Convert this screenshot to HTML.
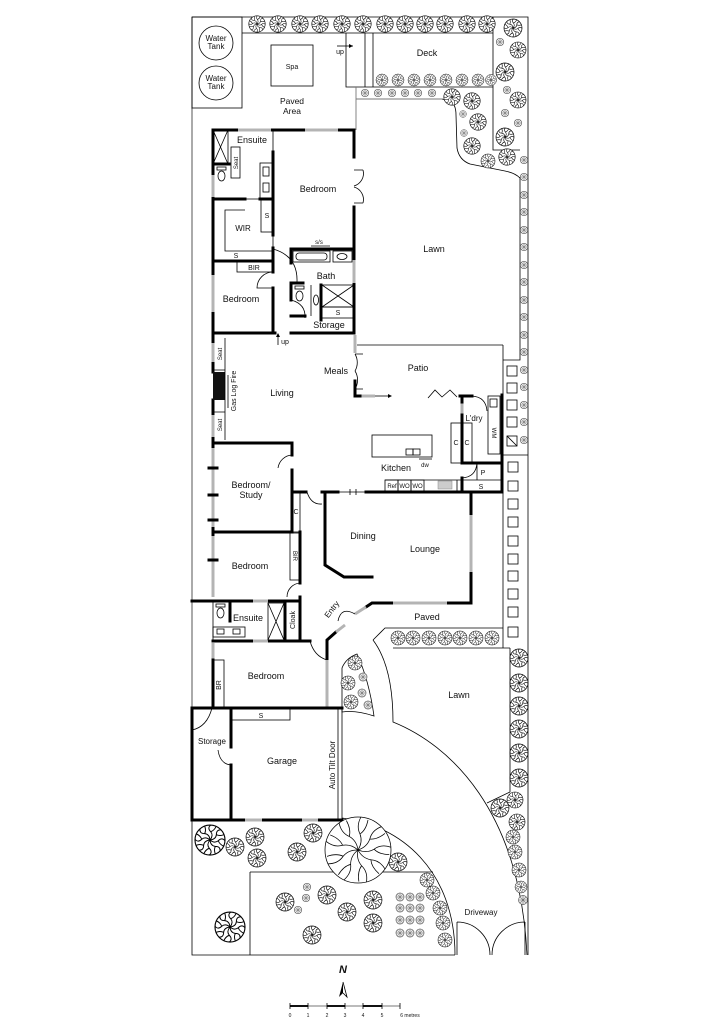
<!DOCTYPE html>
<html><head><meta charset="utf-8">
<style>
html,body{margin:0;padding:0;background:#fff}
svg{display:block}
text{font-family:"Liberation Sans",sans-serif;fill:#111;text-anchor:middle}
.w{stroke:#000;stroke-width:3;fill:none;stroke-linecap:square}
.n{stroke:#000;stroke-width:.8;fill:none}
.g{stroke:#b4b4b4;stroke-width:3;fill:none}
.l{stroke:#777;stroke-width:.9;fill:none}
</style></head><body>
<svg width="723" height="1024" viewBox="0 0 723 1024" xmlns="http://www.w3.org/2000/svg">
<defs>
<g id="t">
<circle r="10" fill="#fff" stroke="#000" stroke-width="0.75"/>
<g fill="none" stroke="#000" stroke-width="0.65">
<path d="M0,0 Q2.5,-3 0.5,-5.5 Q-2,-8 0.5,-10 M0.5,-5.5 Q3,-6.5 4,-9"/>
<path transform="rotate(45)" d="M0,0 Q2.5,-3 0.5,-5.5 Q-2,-8 0.5,-10 M0.5,-5.5 Q3,-6.5 4,-9"/>
<path transform="rotate(90)" d="M0,0 Q2.5,-3 0.5,-5.5 Q-2,-8 0.5,-10 M0.5,-5.5 Q3,-6.5 4,-9"/>
<path transform="rotate(135)" d="M0,0 Q2.5,-3 0.5,-5.5 Q-2,-8 0.5,-10 M0.5,-5.5 Q3,-6.5 4,-9"/>
<path transform="rotate(180)" d="M0,0 Q2.5,-3 0.5,-5.5 Q-2,-8 0.5,-10 M0.5,-5.5 Q3,-6.5 4,-9"/>
<path transform="rotate(225)" d="M0,0 Q2.5,-3 0.5,-5.5 Q-2,-8 0.5,-10 M0.5,-5.5 Q3,-6.5 4,-9"/>
<path transform="rotate(270)" d="M0,0 Q2.5,-3 0.5,-5.5 Q-2,-8 0.5,-10 M0.5,-5.5 Q3,-6.5 4,-9"/>
<path transform="rotate(315)" d="M0,0 Q2.5,-3 0.5,-5.5 Q-2,-8 0.5,-10 M0.5,-5.5 Q3,-6.5 4,-9"/>
</g>
</g>
<g id="s">
<circle r="9" fill="#e8e8e8" stroke="#555" stroke-width="1.3"/>
<path d="M-9,0 H9 M0,-9 V9 M-6.4,-6.4 L6.4,6.4 M-6.4,6.4 L6.4,-6.4" stroke="#666" stroke-width="1.1"/>
</g>
</defs>

<!-- boundaries -->
<path class="n" stroke-width="1.2" d="M192,17 H528 V955"/>
<path class="n" stroke-width="1.2" d="M192,17 V108"/>
<line x1="192" y1="108" x2="192" y2="707" stroke="#aaa" stroke-width="2"/>
<path class="n" stroke-width="1.6" d="M192,820 V955 H455"/>
<rect x="192" y="17" width="50" height="91" class="n"/>
<circle cx="216" cy="43" r="17" class="n"/>
<circle cx="216" cy="83" r="17" class="n"/>
<text x="216" y="41" font-size="8">Water</text><text x="216" y="49" font-size="8">Tank</text>
<text x="216" y="81" font-size="8">Water</text><text x="216" y="89" font-size="8">Tank</text>

<!-- top / deck -->
<path class="n" d="M242,33 H493 M346,33 V87 H493 M365,33 V87 M373,33 V87 M493,17 V150 H520"/>
<path class="n" d="M337,46 H353"/><path d="M353,46 l-4,-2 v4 z" fill="#000"/>
<text x="340" y="54" font-size="7">up</text>
<text x="427" y="56" font-size="9">Deck</text>
<rect x="271" y="45" width="42" height="41" class="n"/>
<text x="292" y="69" font-size="7">Spa</text>
<text x="292" y="104" font-size="8.5">Paved</text><text x="292" y="114" font-size="8.5">Area</text>
<path class="l" d="M356,87 V130 M356,99 H442"/>
<path class="n" d="M442,99 L450,101 Q456,104 456,115 L457,148 Q459,160 470,164 L505,171 Q515,173 520,178"/>
<path class="n" d="M520,177 V360 H503 M503,345 V648 M503,455 H528 M357,345 H503 M510,648 V792 L487,803 M393,648 H510"/>

<!-- lawns / paths -->
<path class="n" d="M373,640 L385,628 H503"/>
<path class="n" d="M373,640 C388,660 393,690 393,722 C450,745 520,810 527,955"/>
<path class="n" d="M342,712 L342,668 Q346,658 357,654 Q369,680 374,716 Q356,710 342,712 Z"/>
<path class="n" d="M342,818 C400,825 455,870 455,955 M250,872 H433 M250,872 V955"/>
<path class="n" d="M457,922 V955 M457,922 A33,33 0 0 1 490,955 M525,922 V955 M525,922 A33,33 0 0 0 492,955"/>

<!-- MASTER WING -->
<path class="w" d="M213,130 H238 M271,130 H305 M338,130 H354 V157 M354,207 V260 M354,283 V333 H291 M275,333 H213 M213,130 V175 M213,197 V275 M213,312 V333"/>
<path class="g" d="M238,130 H271 M305,130 H338 M354,260 V283 M213,175 V197 M213,275 V312"/>
<path class="n" d="M354,170 h9 M354,203 h9 M363,170 A13,13 0 0 1 354,186 M363,203 A13,13 0 0 0 354,187"/>
<path class="w" d="M213,164 H229 M213,199 H245 M260,199 H273 M273,152 V235 M273,248 V272 M273,288 V333 M213,261 H273"/>
<path class="n" d="M273,130 V152 M245,199 H260 M273,235 V248"/>
<rect x="213" y="130" width="15" height="34" class="n"/><path class="n" d="M213,130 L228,164 M228,130 L213,164"/>
<rect x="231" y="147" width="9" height="31" class="n"/>
<text font-size="6" transform="translate(238,163) rotate(-90)">Seat</text>
<rect x="217" y="167" width="9" height="3" class="n"/><ellipse cx="221.5" cy="176" rx="3.5" ry="5" class="n"/>
<text x="252" y="143" font-size="9">Ensuite</text>
<rect x="260" y="163" width="12" height="36" class="n"/>
<rect x="263" y="167" width="6" height="9" class="n"/><rect x="263" y="183" width="6" height="9" class="n"/>
<rect x="261" y="200" width="11" height="32" class="n"/><text x="267" y="218" font-size="7">S</text>
<path class="n" d="M245,210 H225 V251 H272"/>
<text x="243" y="231" font-size="8">WIR</text>
<text x="236" y="258" font-size="7">S</text>
<rect x="237" y="262" width="35" height="10" class="n"/><text x="254" y="270" font-size="7">BIR</text>
<path class="n" d="M273,272 A16,16 0 0 0 257,288 L273,288"/>
<text x="241" y="302" font-size="9">Bedroom</text>
<text x="318" y="192" font-size="9">Bedroom</text>
<path class="w" d="M291,263 V249 H354 M303,283 H291 V300 M291,316 H305 M321,285 V320"/>
<path class="n" d="M273,249 Q298,256 297,282"/>
<rect x="293" y="251" width="37" height="11" class="n"/><rect x="296" y="253" width="31" height="7" rx="3" class="n"/>
<rect x="333" y="251" width="19" height="11" class="n"/><ellipse cx="342" cy="256.5" rx="5" ry="3" class="n"/>
<text x="319" y="244" font-size="6">s/s</text><path class="n" d="M311,246 H330"/>
<text x="326" y="279" font-size="9">Bath</text>
<path class="n" d="M311,285 V316"/>
<rect x="295" y="286" width="9" height="3" class="n"/><ellipse cx="299.5" cy="296" rx="3.5" ry="5" class="n"/>
<ellipse cx="316" cy="300" rx="2.5" ry="5" class="n"/>
<rect x="322" y="285" width="32" height="22" class="n"/><path class="n" d="M322,285 L354,307 M354,285 L322,307"/>
<rect x="322" y="307" width="32" height="11" class="n"/><text x="338" y="315" font-size="7">S</text>
<path class="n" d="M291,300 Q306,304 305,318"/>
<text x="329" y="328" font-size="9">Storage</text>
<path class="n" d="M278,345 V336"/><path d="M278,333 l-2,4 h4 z" fill="#000"/>
<text x="285" y="344" font-size="7">up</text>

<!-- LIVING -->
<path class="w" d="M213,333 V343 M213,362 V372 M213,400 V415 M213,437 V443 H292 V455 M292,470 V532 H213 M213,443 V448 M213,527 V536 M300,532 V583 M300,597 V641 M292,492 H306"/>
<path class="g" d="M213,343 V362 M213,415 V437 M213,448 V527 M213,536 V597"/>
<path class="w" stroke-width="2" d="M209,468 h8 M209,495 h8 M209,520 h8 M209,560 h8"/>
<rect x="213" y="372" width="12" height="28" fill="#111"/>
<path class="n" d="M225,338 V440 M213,370 H225 M213,412 H225 M228,375 V408"/>
<text font-size="6" transform="translate(222,354) rotate(-90)">Seat</text>
<text font-size="6" transform="translate(222,425) rotate(-90)">Seat</text>
<text font-size="7" transform="translate(236,391) rotate(-90)">Gas Log Fire</text>
<text x="282" y="396" font-size="9">Living</text>
<text x="336" y="374" font-size="9">Meals</text>
<text x="418" y="371" font-size="9">Patio</text>
<text x="434" y="252" font-size="9">Lawn</text>
<path class="n" d="M292,455 A15,15 0 0 0 278,468"/>
<text x="251" y="488" font-size="9">Bedroom/</text><text x="251" y="498" font-size="9">Study</text>
<rect x="292" y="492" width="8" height="40" class="n"/><text x="296" y="514" font-size="7">C</text>
<path class="n" d="M307,492 Q311,505 322,504"/>
<rect x="290" y="533" width="10" height="47" class="n"/>
<text font-size="6" transform="translate(293,556) rotate(90)">BIR</text>
<path class="n" d="M300,583 A14,14 0 0 0 287,597"/>
<text x="250" y="569" font-size="9">Bedroom</text>

<!-- ensuite 2 -->
<path class="w" d="M192,601 H253 M268,601 H300 M285,601 V641 M213,641 H253 M268,641 H310"/>
<path class="g" d="M253,601 H268 M253,641 H268"/>
<path class="n" d="M213,601 V641" stroke="#999" stroke-width="2"/>
<path class="w" stroke-width="2" d="M230,601 V621"/>
<rect x="216" y="604" width="9" height="3" class="n"/><ellipse cx="220.5" cy="613" rx="3.5" ry="5" class="n"/>
<text x="248" y="621" font-size="9">Ensuite</text>
<rect x="213" y="627" width="32" height="10" class="n"/><rect x="217" y="629" width="7" height="5" class="n"/><rect x="233" y="629" width="7" height="5" class="n"/>
<rect x="268" y="603" width="16" height="37" class="n"/><path class="n" d="M268,603 L284,640 M284,603 L268,640"/>
<text font-size="7" transform="translate(295,620) rotate(-90)">Cloak</text>
<path class="n" d="M310,641 Q314,656 327,660"/>

<!-- DINING / LOUNGE / ENTRY -->
<path class="w" d="M322,492 H338 M366,492 H502 M325,492 V565 L344,577 H372"/>
<path class="n" d="M338,492 H366 M350,489 V495 M356,489 V495"/>
<path class="w" d="M471,492 V515 M471,572 V603 H447 M393,603 H372 L366,607 M336,632 L327,640 V660"/>
<path class="g" d="M471,515 V572 M447,603 H393 M366,607 L355,614 M345,625 L336,632 M327,660 V707"/>
<path class="n" d="M355,614 Q341,606 338,621"/>
<text x="363" y="539" font-size="9">Dining</text>
<text x="425" y="552" font-size="9">Lounge</text>
<text font-size="8" transform="translate(334,611) rotate(-52)">Entry</text>
<text x="427" y="620" font-size="9">Paved</text>
<text x="459" y="698" font-size="9">Lawn</text>

<!-- bedroom 3 & garage -->
<path class="g" d="M213,643 V660"/>
<path class="w" d="M213,660 V708 M192,708 H342 M192,708 V820 H245 M262,820 H302 M318,820 H342 M231,708 V747 M231,765 V820"/>
<path class="g" d="M245,820 H262 M302,820 H318"/>
<rect x="213" y="660" width="11" height="48" class="n"/>
<text font-size="7" transform="translate(221,685) rotate(-90)">BR</text>
<text x="266" y="679" font-size="9">Bedroom</text>
<path class="n" d="M192,730 Q207,727 212,708"/>
<path class="n" d="M218,750 Q220,764 231,765"/>
<rect x="232" y="709" width="58" height="11" class="n"/><text x="261" y="718" font-size="7">S</text>
<rect x="338" y="709" width="4" height="111" class="n"/>
<text font-size="8" transform="translate(335,765) rotate(-90)">Auto Tilt Door</text>
<text x="212" y="744" font-size="8">Storage</text>
<text x="282" y="764" font-size="9">Garage</text>

<!-- KITCHEN / PATIO / LAUNDRY -->
<path class="g" d="M355,335 V353 M360,396 H375 M462,402 V415"/>
<path class="w" d="M355,381 V396 H360 M460,396 H472 M462,396 V402 M462,415 V463 H502 M502,395 V492 M462,478 V492"/>
<path class="n" d="M375,396 H390"/><path d="M392,396 l-4,-2 v4 z" fill="#000"/>
<path class="n" d="M355,354 h8 M355,389 h8 M355,354 A17,17 0 0 1 355,371 M355,371 A17,17 0 0 1 355,389"/>
<path class="n" d="M428,398 L435,390 L442,397 L450,390 L457,397"/>
<path class="n" d="M472,396 Q486,397 487,411"/>
<rect x="488" y="396" width="12" height="58" class="n"/><rect x="490" y="399" width="7" height="8" class="n"/>
<text font-size="6" transform="translate(492,433) rotate(90)">WM</text>
<text x="474" y="421" font-size="8">L'dry</text>
<rect x="451" y="423" width="11" height="40" class="n"/><rect x="462" y="423" width="10" height="40" class="n"/>
<text x="456" y="445" font-size="7">C</text><text x="467" y="445" font-size="7">C</text>
<path class="n" d="M477,463 V480 M462,480 H502 M462,478 Q476,477 477,463"/>
<text x="483" y="475" font-size="7">P</text>
<text x="481" y="489" font-size="7">S</text>
<path class="n" d="M385,480 H462 M457,480 V491"/>
<rect x="385" y="480" width="13" height="11" class="n"/><rect x="398" y="480" width="13" height="11" class="n"/><rect x="411" y="480" width="13" height="11" class="n"/>
<text x="392" y="488" font-size="6">Ref</text><text x="404.5" y="488" font-size="6">WO</text><text x="417.5" y="488" font-size="6">WO</text>
<rect x="438" y="481" width="14" height="8" fill="#ccc" stroke="#888" stroke-width=".5"/>
<rect x="372" y="435" width="60" height="22" class="n"/>
<rect x="406" y="449" width="7" height="6" class="n"/><rect x="413" y="449" width="7" height="6" class="n"/>
<path class="n" d="M419,459 H432"/><text x="425" y="467" font-size="6">dw</text>
<text x="396" y="471" font-size="9">Kitchen</text>

<!-- stepping stones -->
<g class="n">
<rect x="507" y="366" width="10" height="10"/><rect x="507" y="383" width="10" height="10"/><rect x="507" y="400" width="10" height="10"/><rect x="507" y="417" width="10" height="10"/><rect x="507" y="436" width="10" height="10"/>
<path d="M507,436 L517,446"/>
<rect x="508" y="462" width="10" height="10"/><rect x="508" y="481" width="10" height="10"/><rect x="508" y="499" width="10" height="10"/><rect x="508" y="517" width="10" height="10"/><rect x="508" y="536" width="10" height="10"/><rect x="508" y="554" width="10" height="10"/><rect x="508" y="571" width="10" height="10"/><rect x="508" y="589" width="10" height="10"/><rect x="508" y="607" width="10" height="10"/><rect x="508" y="627" width="10" height="10"/>
</g>

<!-- trees -->
<g>
<use href="#t" transform="translate(257,24) scale(.82)"/><use href="#t" transform="translate(278,24) scale(.82)"/><use href="#t" transform="translate(300,24) scale(.82)"/><use href="#t" transform="translate(320,24) scale(.82)"/><use href="#t" transform="translate(342,24) scale(.82)"/><use href="#t" transform="translate(363,24) scale(.82)"/><use href="#t" transform="translate(385,24) scale(.82)"/><use href="#t" transform="translate(405,24) scale(.82)"/><use href="#t" transform="translate(425,24) scale(.82)"/><use href="#t" transform="translate(445,24) scale(.82)"/><use href="#t" transform="translate(467,24) scale(.82)"/><use href="#t" transform="translate(487,24) scale(.82)"/>
<use href="#t" transform="translate(513,28) scale(.9)"/><use href="#t" transform="translate(518,50) scale(.8)"/><use href="#t" transform="translate(505,72) scale(.9)"/><use href="#t" transform="translate(518,100) scale(.8)"/><use href="#t" transform="translate(505,137) scale(.9)"/>
<use href="#s" transform="translate(500,42) scale(.42)"/><use href="#s" transform="translate(507,90) scale(.42)"/><use href="#s" transform="translate(518,123) scale(.42)"/><use href="#s" transform="translate(505,113) scale(.42)"/>
<use href="#t" transform="translate(382,80) scale(.6)"/><use href="#t" transform="translate(398,80) scale(.6)"/><use href="#t" transform="translate(414,80) scale(.6)"/><use href="#t" transform="translate(430,80) scale(.6)"/><use href="#t" transform="translate(446,80) scale(.6)"/><use href="#t" transform="translate(462,80) scale(.6)"/><use href="#t" transform="translate(478,80) scale(.6)"/><use href="#t" transform="translate(491,80) scale(.55)"/>
<use href="#s" transform="translate(365,93) scale(.42)"/><use href="#s" transform="translate(378,93) scale(.42)"/><use href="#s" transform="translate(392,93) scale(.42)"/><use href="#s" transform="translate(405,93) scale(.42)"/><use href="#s" transform="translate(418,93) scale(.42)"/><use href="#s" transform="translate(432,93) scale(.42)"/>
<use href="#t" transform="translate(452,97) scale(.82)"/><use href="#t" transform="translate(472,101) scale(.82)"/><use href="#t" transform="translate(478,122) scale(.82)"/><use href="#t" transform="translate(472,146) scale(.82)"/><use href="#t" transform="translate(488,161) scale(.7)"/><use href="#t" transform="translate(507,157) scale(.82)"/>
<use href="#s" transform="translate(463,114) scale(.38)"/><use href="#s" transform="translate(464,133) scale(.38)"/>
<use href="#s" transform="translate(524,160) scale(.42)"/><use href="#s" transform="translate(524,177) scale(.42)"/><use href="#s" transform="translate(524,195) scale(.42)"/><use href="#s" transform="translate(524,212) scale(.42)"/><use href="#s" transform="translate(524,230) scale(.42)"/><use href="#s" transform="translate(524,247) scale(.42)"/><use href="#s" transform="translate(524,265) scale(.42)"/><use href="#s" transform="translate(524,282) scale(.42)"/><use href="#s" transform="translate(524,300) scale(.42)"/><use href="#s" transform="translate(524,317) scale(.42)"/><use href="#s" transform="translate(524,335) scale(.42)"/><use href="#s" transform="translate(524,352) scale(.42)"/><use href="#s" transform="translate(524,370) scale(.42)"/><use href="#s" transform="translate(524,387) scale(.42)"/><use href="#s" transform="translate(524,405) scale(.42)"/><use href="#s" transform="translate(524,422) scale(.42)"/><use href="#s" transform="translate(524,440) scale(.42)"/>
<use href="#t" transform="translate(398,638) scale(.7)"/><use href="#t" transform="translate(413,638) scale(.7)"/><use href="#t" transform="translate(429,638) scale(.7)"/><use href="#t" transform="translate(445,638) scale(.7)"/><use href="#t" transform="translate(460,638) scale(.7)"/><use href="#t" transform="translate(476,638) scale(.7)"/><use href="#t" transform="translate(492,638) scale(.7)"/>
<use href="#t" transform="translate(519,658) scale(.9)"/><use href="#t" transform="translate(519,683) scale(.9)"/><use href="#t" transform="translate(519,706) scale(.9)"/><use href="#t" transform="translate(519,729) scale(.9)"/><use href="#t" transform="translate(519,753) scale(.9)"/><use href="#t" transform="translate(519,778) scale(.9)"/><use href="#t" transform="translate(515,800) scale(.8)"/><use href="#t" transform="translate(500,808) scale(.9)"/><use href="#t" transform="translate(517,822) scale(.8)"/><use href="#t" transform="translate(513,837) scale(.7)"/><use href="#t" transform="translate(515,852) scale(.7)"/><use href="#t" transform="translate(519,870) scale(.7)"/><use href="#t" transform="translate(521,887) scale(.6)"/><use href="#s" transform="translate(523,900) scale(.5)"/>
<use href="#t" transform="translate(355,663) scale(.7)"/><use href="#t" transform="translate(348,683) scale(.7)"/><use href="#t" transform="translate(351,702) scale(.7)"/>
<use href="#s" transform="translate(363,677) scale(.45)"/><use href="#s" transform="translate(362,693) scale(.45)"/><use href="#s" transform="translate(368,705) scale(.45)"/>
<use href="#t" transform="translate(210,840) scale(1.5)"/><use href="#t" transform="translate(235,847) scale(.9)"/><use href="#t" transform="translate(255,837) scale(.9)"/><use href="#t" transform="translate(257,858) scale(.9)"/><use href="#t" transform="translate(313,833) scale(.9)"/><use href="#t" transform="translate(297,852) scale(.9)"/><use href="#t" transform="translate(398,862) scale(.9)"/><use href="#t" transform="translate(230,927) scale(1.5)"/>
<use href="#t" transform="translate(427,880) scale(.7)"/><use href="#t" transform="translate(433,893) scale(.7)"/><use href="#t" transform="translate(440,908) scale(.7)"/><use href="#t" transform="translate(443,923) scale(.7)"/><use href="#t" transform="translate(445,940) scale(.7)"/>
<use href="#t" transform="translate(285,902) scale(.9)"/><use href="#t" transform="translate(327,895) scale(.9)"/><use href="#t" transform="translate(347,912) scale(.9)"/><use href="#t" transform="translate(373,900) scale(.9)"/><use href="#t" transform="translate(373,923) scale(.9)"/><use href="#t" transform="translate(312,935) scale(.9)"/>
<use href="#s" transform="translate(307,887) scale(.42)"/><use href="#s" transform="translate(306,898) scale(.42)"/><use href="#s" transform="translate(298,910) scale(.42)"/>
<use href="#s" transform="translate(400,897) scale(.45)"/><use href="#s" transform="translate(410,897) scale(.45)"/><use href="#s" transform="translate(420,897) scale(.45)"/>
<use href="#s" transform="translate(400,908) scale(.45)"/><use href="#s" transform="translate(410,908) scale(.45)"/><use href="#s" transform="translate(420,908) scale(.45)"/>
<use href="#s" transform="translate(400,920) scale(.45)"/><use href="#s" transform="translate(410,920) scale(.45)"/><use href="#s" transform="translate(420,920) scale(.45)"/>
<use href="#s" transform="translate(400,933) scale(.45)"/><use href="#s" transform="translate(410,933) scale(.45)"/><use href="#s" transform="translate(420,933) scale(.45)"/>
</g>

<!-- big tree -->
<g transform="translate(358,850)" fill="none" stroke="#000" stroke-width="0.75">
<circle r="33" fill="#fff"/>
<path d="M0,0 Q5,-8 2,-16 Q-2,-24 3,-33 M2,-16 Q8,-20 10,-30"/>
<path transform="rotate(40)" d="M0,0 Q5,-8 2,-16 Q-2,-24 3,-33 M2,-16 Q8,-20 10,-30"/>
<path transform="rotate(80)" d="M0,0 Q5,-8 2,-16 Q-2,-24 3,-33 M2,-16 Q8,-20 10,-30"/>
<path transform="rotate(120)" d="M0,0 Q5,-8 2,-16 Q-2,-24 3,-33 M2,-16 Q8,-20 10,-30"/>
<path transform="rotate(160)" d="M0,0 Q5,-8 2,-16 Q-2,-24 3,-33 M2,-16 Q8,-20 10,-30"/>
<path transform="rotate(200)" d="M0,0 Q5,-8 2,-16 Q-2,-24 3,-33 M2,-16 Q8,-20 10,-30"/>
<path transform="rotate(240)" d="M0,0 Q5,-8 2,-16 Q-2,-24 3,-33 M2,-16 Q8,-20 10,-30"/>
<path transform="rotate(280)" d="M0,0 Q5,-8 2,-16 Q-2,-24 3,-33 M2,-16 Q8,-20 10,-30"/>
<path transform="rotate(320)" d="M0,0 Q5,-8 2,-16 Q-2,-24 3,-33 M2,-16 Q8,-20 10,-30"/>
</g>

<text x="481" y="915" font-size="8">Driveway</text>

<!-- north arrow & scale -->
<text x="343" y="973" font-size="11" font-weight="bold" font-style="italic">N</text>
<path d="M343,982 L339,997 L343,993 Z" fill="#000"/>
<path d="M343,982 L347,997 L343,993" class="n"/>
<rect x="290" y="1005" width="18" height="2" fill="#111"/><rect x="308" y="1005" width="19" height="2" fill="#bbb"/>
<rect x="327" y="1005" width="18" height="2" fill="#111"/><rect x="345" y="1005" width="18" height="2" fill="#bbb"/>
<rect x="363" y="1005" width="19" height="2" fill="#111"/><rect x="382" y="1005" width="18" height="2" fill="#bbb"/>
<path class="n" d="M290,1003 V1009 M308,1003 V1009 M327,1003 V1009 M345,1003 V1009 M363,1003 V1009 M382,1003 V1009 M400,1003 V1009"/>
<g font-size="5">
<text x="290" y="1017">0</text><text x="308" y="1017">1</text><text x="327" y="1017">2</text><text x="345" y="1017">3</text><text x="363" y="1017">4</text><text x="382" y="1017">5</text><text x="410" y="1017">6 metres</text>
</g>
</svg>
</body></html>
